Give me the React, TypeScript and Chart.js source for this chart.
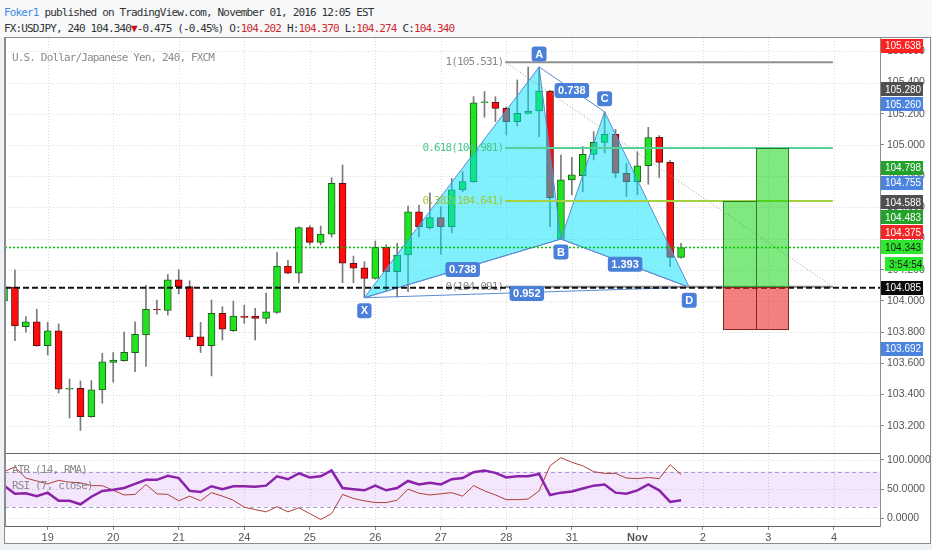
import React, { useEffect, useRef } from "react";
import { Chart, registerables } from "chart.js";
Chart.register(...registerables);

// ---------- data ----------
const firstCandleIndex = -4;
const opens = [104.0, 104.09, 103.835, 103.867, 103.713, 103.808, 103.434, 103.44, 103.258, 103.43, 103.607, 103.617, 103.669, 103.782, 103.947, 103.94, 104.135, 104.092, 103.771, 103.713, 103.921, 103.81, 103.904, 103.904, 103.889, 103.927, 104.224, 104.178, 104.47, 104.376, 104.428, 104.754, 104.242, 104.213, 104.145, 104.344, 104.188, 104.295, 104.572, 104.47, 104.534, 104.476, 104.712, 104.765, 105.271, 105.274, 105.235, 105.149, 105.203, 105.218, 105.346, 104.397, 104.776, 104.803, 104.94, 105.017, 105.069, 104.819, 104.765, 104.867, 105.049, 104.889, 104.28];
const highs = [104.1, 104.2, 103.9, 103.947, 103.863, 103.853, 103.5, 103.487, 103.49, 103.665, 103.67, 103.8, 103.867, 104.1, 104.006, 104.17, 104.2, 104.13, 103.863, 104.006, 103.963, 104.0, 103.974, 103.953, 104.05, 104.312, 104.26, 104.475, 104.483, 104.48, 104.79, 104.872, 104.288, 104.252, 104.385, 104.36, 104.37, 104.609, 104.615, 104.694, 104.604, 104.786, 104.83, 105.31, 105.342, 105.31, 105.245, 105.417, 105.5, 105.5, 105.35, 104.936, 104.921, 104.99, 105.085, 105.213, 105.1, 104.883, 104.957, 105.113, 105.06, 104.9, 104.37];
const lows = [103.95, 103.745, 103.8, 103.71, 103.654, 103.41, 103.25, 103.17, 103.255, 103.345, 103.48, 103.615, 103.547, 103.58, 103.915, 103.91, 104.045, 103.754, 103.67, 103.52, 103.75, 103.805, 103.857, 103.75, 103.857, 103.92, 104.175, 104.117, 104.36, 104.36, 104.41, 104.117, 104.117, 104.021, 104.14, 104.06, 104.024, 104.06, 104.41, 104.46, 104.3, 104.438, 104.7, 104.76, 105.178, 105.15, 105.064, 105.122, 105.2, 105.053, 104.476, 104.397, 104.68, 104.7, 104.904, 104.95, 104.79, 104.67, 104.68, 104.748, 104.79, 104.22, 104.274];
const closes = [104.09, 103.84, 103.867, 103.713, 103.808, 103.434, 103.44, 103.258, 103.43, 103.61, 103.622, 103.671, 103.786, 103.947, 103.942, 104.135, 104.092, 103.771, 103.713, 103.921, 103.819, 103.904, 103.895, 103.889, 103.931, 104.224, 104.178, 104.47, 104.376, 104.429, 104.754, 104.242, 104.21, 104.145, 104.344, 104.188, 104.295, 104.572, 104.476, 104.534, 104.476, 104.712, 104.765, 105.271, 105.275, 105.235, 105.149, 105.203, 105.218, 105.346, 104.662, 104.776, 104.808, 104.94, 105.017, 105.069, 104.819, 104.765, 104.867, 105.047, 104.889, 104.28, 104.343];

const rsiValues = [56, 42, 43, 38, 44, 30, 30, 24, 37, 47, 49, 52, 59, 66, 66, 73, 69, 47, 45, 55, 50, 55, 55, 54, 56, 72, 67, 77, 70, 72, 82, 52, 50, 48, 56, 48, 52, 64, 58, 61, 58, 67, 69, 79, 82, 78, 70, 72, 72, 76, 40, 44, 46, 51, 56, 58, 44, 42, 48, 58, 48, 28, 31];
const atrValues = [80, 88, 69, 64, 59, 65, 62, 61, 56, 56, 48, 40, 41, 58, 42, 41, 30, 38, 30, 44, 38, 31, 19, 15, 11, 20, 11, 18, 8, -2, 8, 41, 34, 30, 27, 27, 31, 50, 43, 40, 42, 44, 38, 56, 47, 40, 32, 32, 33, 47, 90, 104, 96, 90, 80, 77, 77, 69, 68, 70, 68, 92, 75];

const dayTickIndex = [0, 6, 12, 18, 24, 30, 36, 42, 48, 54, 60, 66, 72];
const dayLabels = ["19", "20", "21", "24", "25", "26", "27", "28", "31", "Nov", "2", "3", "4"];
const priceTicks = [105.6, 105.4, 105.2, 105.0, 104.8, 104.6, 104.4, 104.2, 104.0, 103.8, 103.6, 103.4, 103.2];
const oscTicks = [100, 50, 0];
const oscBand = [20, 80];

const patternNames = ["X", "A", "B", "C", "D"];
const patternIndex = [29, 45, 47, 51, 58.75];
const patternPrices = [104.021, 105.5, 104.397, 105.213, 104.088];
const patternTriangles = [["X", "A", "B"], ["B", "C", "D"]];
const ratioFrom = ["X", "A", "B", "X"];
const ratioTo = ["B", "C", "D", "D"];
const ratioLabels = ["0.738", "0.738", "1.393", "0.952"];

const fibRatios = ["1", "0.618", "0.382", "0"];
const fibPrices = [105.531, 104.981, 104.641, 104.091];
const fibFromIndex = 41.9;
const fibToIndex = 71.9;

const positionFrom = [61.87, 64.85];
const positionTo = [64.85, 67.82];
const positionEntry = 104.091;
const positionStop = 103.82;
const positionTargets = [104.641, 104.981];

const lastPrice = 104.343;
const alertPrice = 104.085;
const countdownText = "3:54:54";
const markerValues = [105.638, 105.28, 105.26, 104.798, 104.755, 104.588, 104.483, 104.375, 104.085, 103.692];
const markerKinds = ["high", "line", "pattern", "target", "pattern", "line", "target", "stop", "alert", "pattern"];

// axis ranges
const xMin = -3.91;
const xMax = 76.218;
const priceMin = 103.0256;
const priceMax = 105.6859;
const oscMin = -13.2;
const oscMax = 112;

// ---------- styles ----------
const SANS = '"Liberation Sans", Arial, sans-serif';
const MONO = '"DejaVu Sans Mono", "Liberation Mono", monospace';
const GRID = "rgba(0,0,0,0.14)";
const FRAME = "#8c8c8c";
const markerStyles: Record<string, { bg: string; fg: string }> = {
  high: { bg: "#ff1f1f", fg: "#fff" },
  line: { bg: "#4f4f4f", fg: "#fff" },
  pattern: { bg: "#4a84df", fg: "#fff" },
  target: { bg: "#22a22a", fg: "#fff" },
  stop: { bg: "#f52626", fg: "#fff" },
  alert: { bg: "#0b0b0b", fg: "#fff" },
  last: { bg: "#2ee82e", fg: "#1b1b1b" },
};
const fibColors = ["#8f8f8f", "#52d29a", "#a3d23e", "#8f8f8f"];
const fibTextColors = ["#8a8a8a", "#46c98c", "#9cc83a", "#8a8a8a"];

function seg(ctx: CanvasRenderingContext2D, x1: number, y1: number, x2: number, y2: number) {
  ctx.beginPath();
  ctx.moveTo(x1, y1);
  ctx.lineTo(x2, y2);
  ctx.stroke();
}

function tag(ctx: CanvasRenderingContext2D, text: string, cx: number, cy: number) {
  ctx.font = `bold 11px ${SANS}`;
  const w = ctx.measureText(text).width + 7;
  const h = 15;
  ctx.fillStyle = "#4a80d9";
  ctx.beginPath();
  if ((ctx as any).roundRect) (ctx as any).roundRect(cx - w / 2, cy - h / 2, w, h, 3);
  else ctx.rect(cx - w / 2, cy - h / 2, w, h);
  ctx.fill();
  ctx.fillStyle = "#fff";
  ctx.textAlign = "center";
  ctx.textBaseline = "middle";
  ctx.fillText(text, cx, cy + 0.5);
}

function patternPoint(chart: any, name: string) {
  const k = patternNames.indexOf(name);
  return [chart.scales.x.getPixelForValue(patternIndex[k]), chart.scales.y.getPixelForValue(patternPrices[k])];
}

function clipArea(ctx: CanvasRenderingContext2D, a: any) {
  ctx.beginPath();
  ctx.rect(a.left, a.top, a.right - a.left, a.bottom - a.top);
  ctx.clip();
}

const mainDecor = {
  id: "mainDecor",
  beforeDatasetsDraw(chart: any) {
    const { ctx, chartArea: a, scales } = chart;
    ctx.save();
    ctx.strokeStyle = GRID;
    ctx.lineWidth = 1;
    ctx.setLineDash([1, 2]);
    dayTickIndex.forEach((v) => {
      const px = Math.round(scales.x.getPixelForValue(v)) + 0.5;
      seg(ctx, px, a.top, px, a.bottom);
    });
    priceTicks.forEach((v) => {
      const py = Math.round(scales.y.getPixelForValue(v)) + 0.5;
      seg(ctx, a.left, py, a.right, py);
    });
    ctx.restore();
  },
  afterDatasetDraw(chart: any, args: any) {
    if (chart.data.datasets[args.index].label !== "bodies") return;
    const { ctx, chartArea: a, scales } = chart;
    ctx.save();
    clipArea(ctx, a);
    ctx.fillStyle = "rgba(0,225,250,0.5)";
    patternTriangles.forEach((tri) => {
      ctx.beginPath();
      tri.forEach((n, j) => {
        const [px, py] = patternPoint(chart, n);
        if (j) ctx.lineTo(px, py);
        else ctx.moveTo(px, py);
      });
      ctx.closePath();
      ctx.fill();
    });
    // fib labels
    ctx.font = `11px ${MONO}`;
    if ("letterSpacing" in ctx) (ctx as any).letterSpacing = "-0.85px";
    ctx.textAlign = "right";
    ctx.textBaseline = "middle";
    const lx = scales.x.getPixelForValue(fibFromIndex) - 2;
    fibRatios.forEach((r, k) => {
      ctx.fillStyle = fibTextColors[k];
      ctx.fillText(`${r}(${fibPrices[k].toFixed(3)})`, lx, scales.y.getPixelForValue(fibPrices[k]));
    });
    ctx.restore();
  },
  afterDatasetsDraw(chart: any) {
    const { ctx, chartArea: a, scales } = chart;
    const x = scales.x;
    const y = scales.y;
    ctx.save();
    clipArea(ctx, a);
    // long position boxes
    const yE = y.getPixelForValue(positionEntry);
    const yS = y.getPixelForValue(positionStop);
    positionFrom.forEach((from, k) => {
      const x1 = Math.round(x.getPixelForValue(from)) + 0.5;
      const x2 = Math.round(x.getPixelForValue(positionTo[k])) + 0.5;
      const yT = Math.round(y.getPixelForValue(positionTargets[k])) + 0.5;
      const ye = Math.round(yE) + 0.5;
      const ys = Math.round(yS) + 0.5;
      ctx.lineWidth = 1;
      ctx.fillStyle = "rgba(0,212,0,0.5)";
      ctx.fillRect(x1, yT, x2 - x1, ye - yT);
      ctx.strokeStyle = "#2e7a31";
      ctx.strokeRect(x1, yT, x2 - x1, ye - yT);
      ctx.fillStyle = "rgba(232,0,0,0.5)";
      ctx.fillRect(x1, ye, x2 - x1, ys - ye);
      ctx.strokeStyle = "#8a2424";
      ctx.strokeRect(x1, ye, x2 - x1, ys - ye);
    });
    // ratio labels
    ratioFrom.forEach((f, k) => {
      const [x1, y1] = patternPoint(chart, f);
      const [x2, y2] = patternPoint(chart, ratioTo[k]);
      tag(ctx, ratioLabels[k], (x1 + x2) / 2, (y1 + y2) / 2 + 1);
    });
    // point labels
    patternNames.forEach((n, k) => {
      const [px, py] = patternPoint(chart, n);
      const above = k % 2 === 1;
      tag(ctx, n, px, above ? py - 13 : py + 13);
    });
    ctx.restore();
  },
  afterDraw(chart: any) {
    const { ctx, chartArea: a, scales } = chart;
    const y = scales.y;
    ctx.save();
    // axis price markers
    const step = 15;
    const h = 14;
    const priceY = y.getPixelForValue(lastPrice);
    const cdY = priceY + 17;
    const items = markerValues.map((v, k) => ({ v, kind: markerKinds[k], py: y.getPixelForValue(v) }));
    const above = items.filter((it) => it.py < priceY).sort((p, q) => q.py - p.py);
    let prev = priceY;
    above.forEach((it) => {
      it.py = Math.min(it.py, prev - step);
      prev = it.py;
    });
    const below = items.filter((it) => it.py >= priceY).sort((p, q) => p.py - q.py);
    prev = cdY;
    below.forEach((it) => {
      it.py = Math.max(it.py, prev + step);
      prev = it.py;
    });
    items.forEach((it) => {
      it.py = Math.max(it.py, a.top + h / 2 + 0.5);
    });
    const all = [
      ...items.map((it) => ({ text: it.v.toFixed(3), style: markerStyles[it.kind], py: it.py })),
      { text: lastPrice.toFixed(3), style: markerStyles.last, py: priceY },
      { text: countdownText, style: markerStyles.last, py: cdY },
    ];
    const bx = a.right + 1;
    ctx.font = `10px ${SANS}`;
    ctx.textAlign = "left";
    ctx.textBaseline = "middle";
    all.forEach((m, k) => {
      const isCountdown = k === all.length - 1;
      const left = isCountdown ? bx + 4 : bx;
      ctx.fillStyle = m.style.bg;
      ctx.fillRect(left, Math.round(m.py - h / 2), 42 - (left - bx), h);
      ctx.fillStyle = m.style.fg;
      ctx.fillText(m.text, left + 4, m.py + 0.5);
    });
    // pane borders
    ctx.strokeStyle = FRAME;
    ctx.lineWidth = 1;
    seg(ctx, a.left + 0.5, a.top, a.left + 0.5, a.bottom);
    ctx.restore();
  },
};

const oscDecor = {
  id: "oscDecor",
  beforeDatasetsDraw(chart: any) {
    const { ctx, chartArea: a, scales } = chart;
    const y = scales.y;
    ctx.save();
    const yTop = y.getPixelForValue(oscBand[1]);
    const yBot = y.getPixelForValue(oscBand[0]);
    ctx.fillStyle = "#f4e6fc";
    ctx.fillRect(a.left, yTop, a.right - a.left, yBot - yTop);
    ctx.strokeStyle = GRID;
    ctx.lineWidth = 1;
    ctx.setLineDash([1, 2]);
    dayTickIndex.forEach((v) => {
      const px = Math.round(scales.x.getPixelForValue(v)) + 0.5;
      seg(ctx, px, a.top, px, a.bottom);
    });
    oscTicks.forEach((v) => {
      const py = Math.round(y.getPixelForValue(v)) + 0.5;
      seg(ctx, a.left, py, a.right, py);
    });
    ctx.strokeStyle = "#a79ad2";
    ctx.setLineDash([4, 3]);
    oscBand.forEach((v) => {
      const py = Math.round(y.getPixelForValue(v)) + 0.5;
      seg(ctx, a.left, py, a.right, py);
    });
    ctx.restore();
  },
  afterDraw(chart: any) {
    const { ctx, chartArea: a } = chart;
    ctx.save();
    ctx.strokeStyle = "#666";
    ctx.lineWidth = 1;
    seg(ctx, a.left, a.top + 0.5, a.right, a.top + 0.5);
    ctx.strokeStyle = FRAME;
    seg(ctx, a.left + 0.5, a.top, a.left + 0.5, a.bottom);
    ctx.restore();
  },
};

function fixVertical(s: any) {
  s.width = 50;
  s.paddingTop = 0;
  s.paddingBottom = 0;
}

function lineSet(label: string, pts: number[][], color: string, width: number, dash: number[], order: number) {
  return {
    type: "line" as const,
    label,
    data: pts.map(([px, py]) => ({ x: px, y: py })),
    borderColor: color,
    borderWidth: width,
    borderDash: dash,
    pointRadius: 0,
    fill: false,
    tension: 0,
    order,
  };
}

function buildMainConfig(): any {
  const idx = opens.map((_, k) => firstCandleIndex + k);
  const up = opens.map((o, k) => closes[k] >= o);
  const pt = (n: string) => {
    const k = patternNames.indexOf(n);
    return [patternIndex[k], patternPrices[k]];
  };
  const edgeSets: any[] = [];
  patternTriangles.forEach((tri, t) => {
    tri.forEach((n, j) => {
      edgeSets.push(lineSet(`edge${t}${j}`, [pt(n), pt(tri[(j + 1) % 3])], "#5a8bd6", 1, [], 4));
    });
  });
  ratioFrom.forEach((f, k) => {
    edgeSets.push(lineSet(`ratio${k}`, [pt(f), pt(ratioTo[k])], "#5a8bd6", 1, [], 4));
  });
  const fibSets = fibPrices.map((p, k) =>
    lineSet(`fib${k}`, [[fibFromIndex, p], [fibToIndex, p]], fibColors[k], 2, [], 3)
  );
  return {
    type: "bar",
    data: {
      datasets: [
        {
          type: "bar",
          label: "wicks",
          data: idx.map((i, k) => ({ x: i, y: [lows[k], highs[k]] })),
          backgroundColor: "#7a7a7a",
          barThickness: 1,
          grouped: false,
          order: 10,
        },
        {
          type: "bar",
          label: "bodies",
          data: idx.map((i, k) => ({ x: i, y: [Math.min(opens[k], closes[k]), Math.max(opens[k], closes[k])] })),
          backgroundColor: up.map((u) => (u ? "#22e322" : "#ff0c0c")),
          borderColor: up.map((u) => (u ? "#1d5e1d" : "#5e1010")),
          borderWidth: 1,
          borderSkipped: false,
          barThickness: 7,
          minBarLength: 1,
          grouped: false,
          order: 9,
        },
        ...edgeSets,
        ...fibSets,
        lineSet("fibTrend", [[fibFromIndex, fibPrices[0]], [fibToIndex, fibPrices[fibPrices.length - 1]]], "#999", 1, [1, 2], 3),
        lineSet("last", [[xMin, lastPrice], [xMax, lastPrice]], "#00c400", 1.3, [2, 2], 2),
        lineSet("alert", [[xMin, alertPrice], [xMax, alertPrice]], "#111", 2, [6, 3], 1),
      ],
    },
    options: {
      animation: false,
      responsive: false,
      maintainAspectRatio: false,
      layout: { padding: 0 },
      plugins: { legend: { display: false }, tooltip: { enabled: false } },
      scales: {
        x: { type: "linear", display: false, min: xMin, max: xMax, offset: false, bounds: "data" },
        y: {
          type: "linear",
          position: "right",
          min: priceMin,
          max: priceMax,
          bounds: "data",
          afterBuildTicks: (s: any) => {
            s.ticks = priceTicks.map((v) => ({ value: v }));
          },
          afterFit: fixVertical,
          ticks: {
            color: "#555",
            padding: 3,
            font: { family: SANS, size: 10.5 },
            callback: (v: any) => Number(v).toFixed(3),
          },
          grid: { drawOnChartArea: false, drawTicks: true, tickLength: 4, color: "#888" },
          border: { display: true, color: FRAME },
        },
      },
    },
    plugins: [mainDecor],
  };
}

function buildOscConfig(): any {
  const idx = rsiValues.map((_, k) => firstCandleIndex + k);
  return {
    type: "line",
    data: {
      datasets: [
        {
          label: "RSI",
          data: idx.map((i, k) => ({ x: i, y: rsiValues[k] })),
          borderColor: "#8a22aa",
          borderWidth: 2.5,
          pointRadius: 0,
          tension: 0,
        },
        {
          label: "ATR",
          data: idx.map((i, k) => ({ x: i, y: atrValues[k] })),
          borderColor: "#ad4038",
          borderWidth: 1,
          pointRadius: 0,
          tension: 0,
        },
      ],
    },
    options: {
      animation: false,
      responsive: false,
      maintainAspectRatio: false,
      layout: { padding: 0 },
      plugins: { legend: { display: false }, tooltip: { enabled: false } },
      scales: {
        x: {
          type: "linear",
          min: xMin,
          max: xMax,
          bounds: "data",
          afterBuildTicks: (s: any) => {
            s.ticks = dayTickIndex.map((v) => ({ value: v }));
          },
          afterFit: (s: any) => {
            s.height = 17;
            s.paddingLeft = 0;
            s.paddingRight = 0;
          },
          ticks: {
            autoSkip: false,
            maxRotation: 0,
            padding: 1,
            color: "#555",
            font: (c: any) => ({
              family: SANS,
              size: 11,
              weight: c.tick && c.tick.label === "Nov" ? "bold" : "normal",
            }),
            callback: (v: any) => {
              const k = dayTickIndex.indexOf(Number(v));
              return k >= 0 ? dayLabels[k] : "";
            },
          },
          grid: { drawOnChartArea: false, drawTicks: true, tickLength: 4, color: "#888" },
          border: { display: true, color: "#666" },
        },
        y: {
          type: "linear",
          position: "right",
          min: oscMin,
          max: oscMax,
          bounds: "data",
          afterBuildTicks: (s: any) => {
            s.ticks = oscTicks.map((v) => ({ value: v }));
          },
          afterFit: fixVertical,
          ticks: {
            color: "#555",
            padding: 3,
            font: { family: SANS, size: 10.5 },
            callback: (v: any) => Number(v).toFixed(4),
          },
          grid: { drawOnChartArea: false, drawTicks: true, tickLength: 4, color: "#888" },
          border: { display: true, color: FRAME },
        },
      },
    },
    plugins: [oscDecor],
  };
}

const monoText: React.CSSProperties = {
  position: "absolute",
  fontFamily: MONO,
  fontSize: 11,
  letterSpacing: "-0.85px",
  lineHeight: "14px",
  whiteSpace: "pre",
  pointerEvents: "none",
};
const red = { color: "#cf2a2a" };

export default function App() {
  const mainRef = useRef<HTMLCanvasElement>(null);
  const oscRef = useRef<HTMLCanvasElement>(null);
  useEffect(() => {
    Chart.defaults.font.family = SANS;
    const main = new Chart(mainRef.current as HTMLCanvasElement, buildMainConfig());
    const osc = new Chart(oscRef.current as HTMLCanvasElement, buildOscConfig());
    return () => {
      main.destroy();
      osc.destroy();
    };
  }, []);
  return (
    <div style={{ position: "fixed", left: 0, top: 0, width: 932, height: 550, background: "#eef1f5", overflow: "hidden" }}>
      <div style={{ position: "absolute", left: 0, top: 0, width: 932, height: 37, background: "#f6f8fa" }} />
      <div style={{ ...monoText, left: 4, top: 6, color: "#333" }}>
        <span style={{ color: "#3a8ce6" }}>Foker1</span> published on TradingView.com, November 01, 2016 12:05 EST
      </div>
      <div style={{ ...monoText, left: 4, top: 22, color: "#333" }}>
        FX:USDJPY, 240 104.340<span style={{ color: "#d01010" }}>▼</span>-0.475 (-0.45%) O:<span style={red}>104.202</span> H:
        <span style={red}>104.370</span> L:<span style={red}>104.274</span> C:<span style={red}>104.340</span>
      </div>
      <div
        style={{
          position: "absolute",
          left: 4,
          top: 37,
          width: 927,
          height: 507,
          background: "#fff",
          border: `1px solid ${FRAME}`,
          boxSizing: "border-box",
        }}
      />
      <canvas ref={mainRef} width={925} height={415} style={{ position: "absolute", left: 5, top: 38, width: 925, height: 415 }} />
      <canvas ref={oscRef} width={925} height={90} style={{ position: "absolute", left: 5, top: 453, width: 925, height: 90 }} />
      <div style={{ ...monoText, left: 12, top: 51, color: "#8a8a8a" }}>U.S. Dollar/Japanese Yen, 240, FXCM</div>
      <div style={{ ...monoText, left: 12, top: 463, color: "#8a8a8a" }}>ATR (14, RMA)</div>
      <div style={{ ...monoText, left: 12, top: 479, color: "#8a8a8a" }}>RSI (7, close)</div>
    </div>
  );
}
